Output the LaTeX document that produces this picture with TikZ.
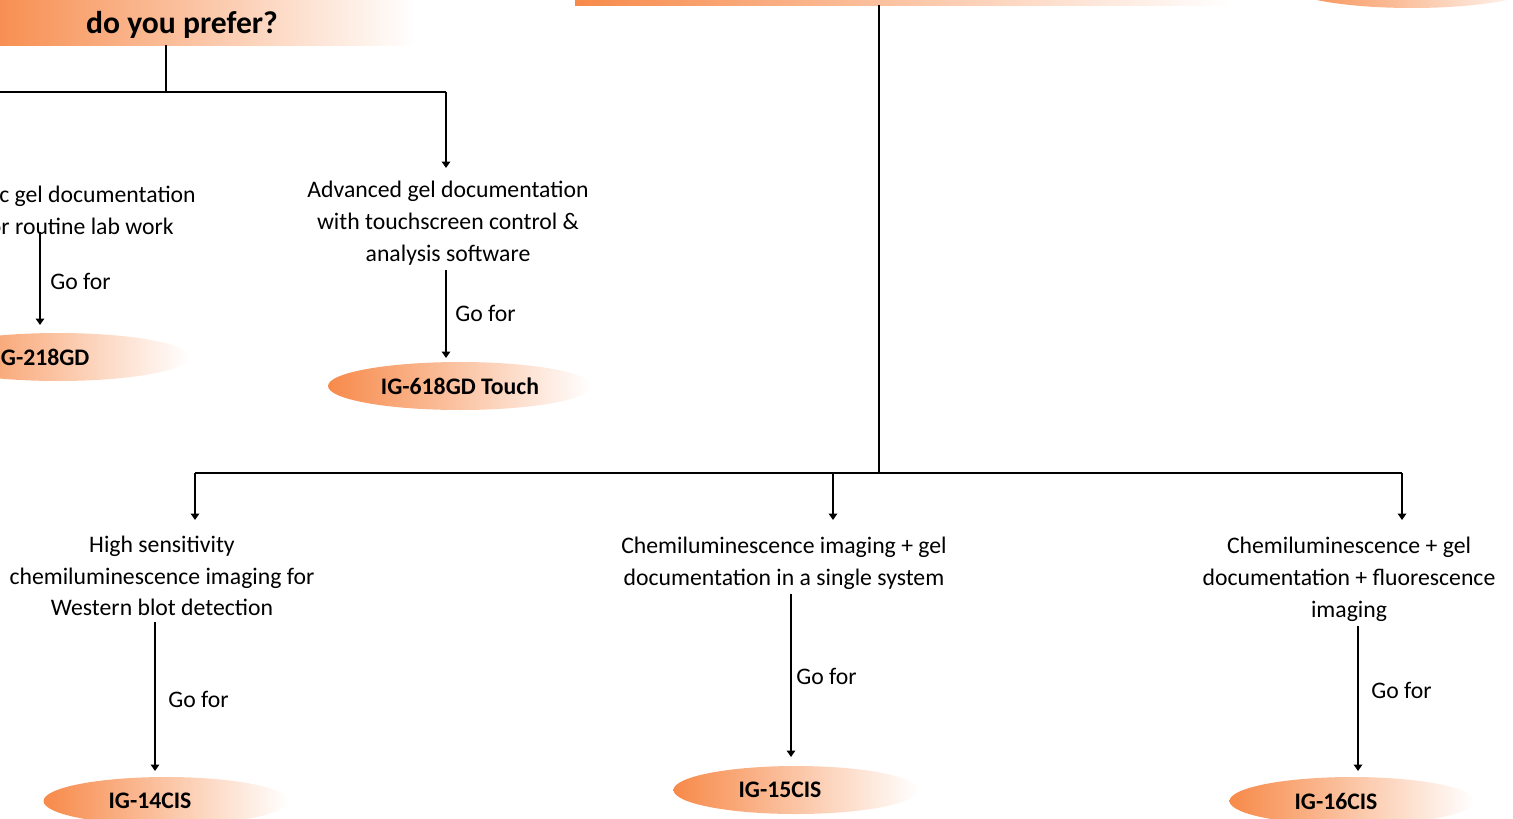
\documentclass[tikz,border=0pt]{standalone}
\usepackage{fontspec}
\setmainfont{Carlito}
\usetikzlibrary{arrows.meta,shapes.geometric}
\definecolor{orng}{RGB}{247,138,74}
\newcommand{\padr}{\rule{0.64cm}{0pt}}
\tikzset{
  desc/.style={font=\fontsize{13.5}{18.1}\selectfont, align=center, inner sep=0pt},
  golbl/.style={font=\fontsize{13.5}{16}\selectfont, anchor=west, inner sep=0pt},
  prod/.style={ellipse, inner sep=0pt, minimum width=5.28cm, minimum height=0.96cm,
    left color=orng, right color=white, font=\fontsize{13.5}{16}\selectfont\bfseries},
  wire/.style={line width=1.1pt},
  link/.style={wire, -{Triangle[width=0.17cm,length=0.13cm]}},
}
\begin{document}
\begin{tikzpicture}[x=0.02cm,y=-0.02cm]
    \useasboundingbox (0,0) rectangle (1513,818);
    \clip (0,0) rectangle (1513,818);

    % question boxes, cut by the frame
    \shade[left color=orng, right color=white] (-20,-60) rectangle (415,45);
    \node[font=\fontsize{18}{20}\selectfont\bfseries, inner sep=0pt] (q1) at (182,25) {do you prefer?};
    \shade[left color=orng, right color=white] (575,-60) rectangle (1230,5);
    \node[prod, minimum width=5.12cm] (topr) at (1412,-16) {};

    \coordinate (q1b) at (166,45);
    \coordinate (j1) at (166,92);
    \coordinate (j1l) at (-30,92);
    \coordinate (j1r) at (446,92);
    \coordinate (q2b) at (879,5);
    \coordinate (j2) at (879,473);
    \coordinate (j2l) at (195,473);
    \coordinate (j2m) at (833,473);
    \coordinate (j2r) at (1402,473);

    % gel documentation branch
    \node[desc] (basic) at (78,210) {Basic gel documentation\\for routine lab work};
    \node[desc] (adv) at (448,223) {Advanced gel documentation\\with touchscreen control \&\\analysis software};
    \node[prod] (e218) at (58,357) {IG-218GD\padr};
    \node[prod] (e618) at (460,386) {IG-618GD Touch};

    \draw[wire] (q1b) -- (j1);
    \draw[wire] (j1l) -- (j1r);
    \draw[link] (j1r) -- (446,168);

    \coordinate (g1s) at (40,232);
    \coordinate (g1e) at (40,325);
    \draw[link] (g1s) -- (g1e);
    \node[golbl] (go1) at (50,281) {Go for};
    \coordinate (g2s) at (446,270);
    \coordinate (g2e) at (446,358);
    \draw[link] (g2s) -- (g2e);
    \node[golbl] (go2) at (455,313) {Go for};

    % chemiluminescence branch
    \node[desc] (high) at (162,576) {High sensitivity\\chemiluminescence imaging for\\Western blot detection};
    \node[desc] (single) at (784,563) {Chemiluminescence imaging + gel\\documentation in a single system};
    \node[desc] (fluo) at (1349,579) {Chemiluminescence + gel\\documentation + fluorescence\\imaging};
    \node[prod, minimum width=4.9cm] (e14) at (166,801) {IG-14CIS\padr};
    \node[prod, minimum width=4.9cm] (e15) at (796,790) {IG-15CIS\padr};
    \node[prod, minimum width=4.9cm] (e16) at (1352,801) {IG-16CIS\padr};

    \draw[wire] (q2b) -- (j2);
    \draw[wire] (j2l) -- (j2r);
    \draw[link] (j2l) -- (195,520);
    \draw[link] (j2m) -- (833,520);
    \draw[link] (j2r) -- (1402,520);

    \coordinate (g3s) at (155,622);
    \coordinate (g3e) at (155,771);
    \draw[link] (g3s) -- (g3e);
    \node[golbl] (go3) at (168,699) {Go for};
    \coordinate (g4s) at (791,594);
    \coordinate (g4e) at (791,757);
    \draw[link] (g4s) -- (g4e);
    \node[golbl] (go4) at (796,676) {Go for};
    \coordinate (g5s) at (1358,626);
    \coordinate (g5e) at (1358,771);
    \draw[link] (g5s) -- (g5e);
    \node[golbl] (go5) at (1371,690) {Go for};
\end{tikzpicture}
\end{document}
